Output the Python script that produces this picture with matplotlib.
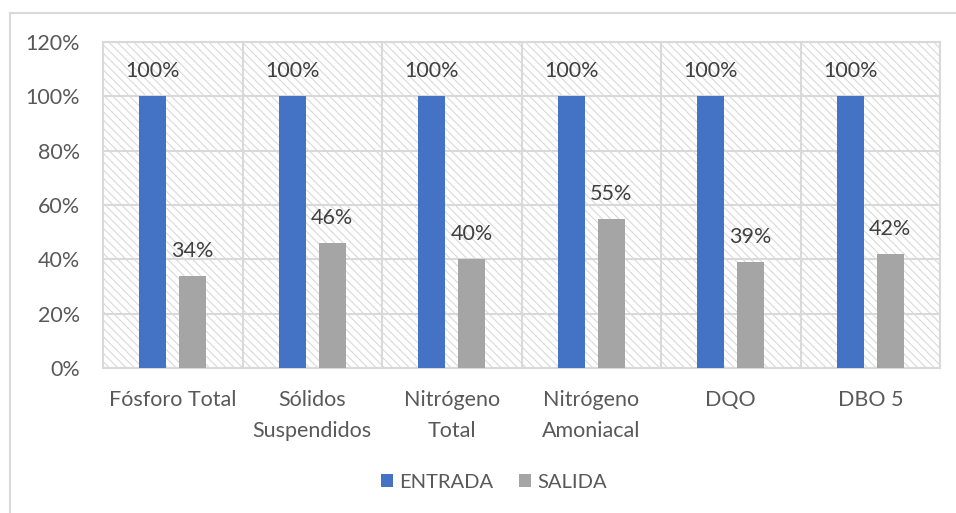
import matplotlib
matplotlib.use("Agg")
import matplotlib.pyplot as plt
import numpy as np
from matplotlib.patches import Rectangle
from matplotlib.lines import Line2D

categories = ["Fósforo Total", "Sólidos\nSuspendidos", "Nitrógeno\nTotal",
              "Nitrógeno\nAmoniacal", "DQO", "DBO 5"]
entrada = [100, 100, 100, 100, 100, 100]
salida = [34, 46, 40, 55, 39, 42]
yticks = [0, 20, 40, 60, 80, 100, 120]

plt.rcParams['font.family'] = ['Lato', 'DejaVu Sans']
plt.rcParams['hatch.linewidth'] = 0.8
plt.rcParams['hatch.color'] = '#d9d9d9'

grid_c = '#d9d9d9'
text_c = '#595959'
fs = 15.5

fig = plt.figure(figsize=(9.56, 5.13), dpi=100)
ax = fig.add_axes([103/956, 1-368/513, (940-103)/956, (368-42)/513])

# hatched plot area
ax.add_patch(Rectangle((0, 0), 1, 1, transform=ax.transAxes, facecolor='white',
                       edgecolor=grid_c, hatch='\\\\\\\\', linewidth=0, zorder=0))

x = np.arange(len(categories))
w = 0.195
off = 0.143
b1 = ax.bar(x - off, entrada, w, color='#4472C4', zorder=3, label='ENTRADA')
b2 = ax.bar(x + off, salida, w, color='#A5A5A5', zorder=3, label='SALIDA')

for bars, vals in ((b1, entrada), (b2, salida)):
    for r, v in zip(bars, vals):
        ax.text(r.get_x() + r.get_width()/2, v + 9.2, f"{v}%", ha='center', va='center',
                fontsize=fs, color='#404040', zorder=4)

ax.set_xlim(-0.5, len(categories) - 0.5)
ax.set_ylim(0, 120)
ax.set_yticks(yticks)
ax.set_yticklabels([f"{t}%" for t in yticks])
ax.set_xticks(x)
ax.set_xticklabels(categories, linespacing=1.65)
ax.tick_params(length=0, labelsize=fs, colors=text_c)
ax.tick_params(axis='y', pad=16.5)
ax.tick_params(axis='x', pad=16)

for t in yticks:
    ax.axhline(t, color=grid_c, lw=1.5, zorder=1)
for s in np.arange(0.5, len(categories), 1.0):
    ax.axvline(s, color=grid_c, lw=1.5, zorder=1)
for sp in ax.spines.values():
    sp.set_color(grid_c)
    sp.set_linewidth(1.5)

# chart area border
fig.add_artist(Line2D([10/956, 10/956], [0, 1-13/513], color=grid_c, lw=1.5))
fig.add_artist(Line2D([10/956, 1], [1-13/513, 1-13/513], color=grid_c, lw=1.5))

fig.legend(handles=[b1, b2], loc='center', bbox_to_anchor=(494/956, 1-482/513),
           ncol=2, frameon=False, fontsize=14.5, labelcolor=text_c,
           handlelength=0.6, handleheight=0.6, handletextpad=0.3, columnspacing=1.3)

fig.savefig("out.png", dpi=100)
